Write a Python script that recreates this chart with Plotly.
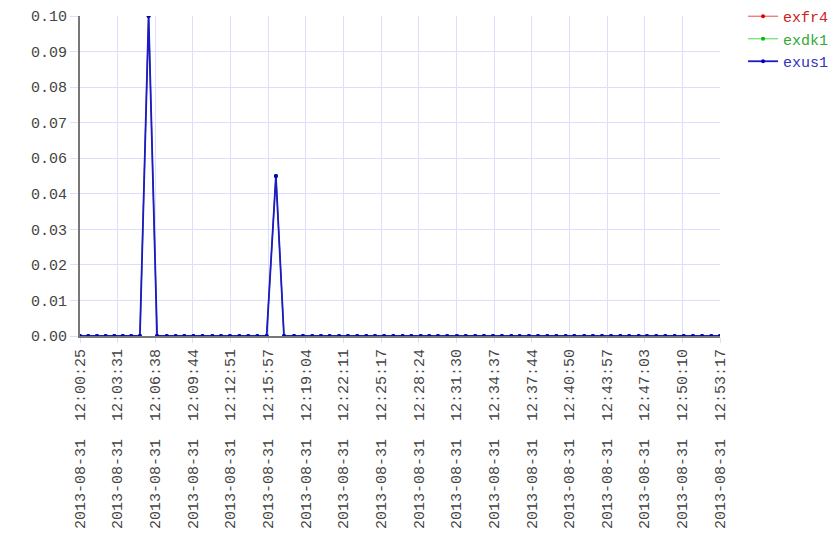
import plotly.graph_objects as go

times = [
    "2013-08-31 12:00:25", "2013-08-31 12:01:06", "2013-08-31 12:01:49", "2013-08-31 12:02:32",
    "2013-08-31 12:03:15", "2013-08-31 12:03:57", "2013-08-31 12:04:39", "2013-08-31 12:05:22",
    "2013-08-31 12:06:05", "2013-08-31 12:06:47", "2013-08-31 12:07:35", "2013-08-31 12:08:19",
    "2013-08-31 12:09:02", "2013-08-31 12:09:47", "2013-08-31 12:10:32", "2013-08-31 12:11:21",
    "2013-08-31 12:12:04", "2013-08-31 12:12:48", "2013-08-31 12:13:35", "2013-08-31 12:14:19",
    "2013-08-31 12:15:04", "2013-08-31 12:15:50", "2013-08-31 12:16:36", "2013-08-31 12:17:16",
    "2013-08-31 12:18:06", "2013-08-31 12:18:50", "2013-08-31 12:19:36", "2013-08-31 12:20:19",
    "2013-08-31 12:21:02", "2013-08-31 12:21:49", "2013-08-31 12:22:33", "2013-08-31 12:23:19",
    "2013-08-31 12:24:04", "2013-08-31 12:24:47", "2013-08-31 12:25:32", "2013-08-31 12:26:18",
    "2013-08-31 12:27:04", "2013-08-31 12:27:47", "2013-08-31 12:28:34", "2013-08-31 12:29:16",
    "2013-08-31 12:29:59", "2013-08-31 12:30:45", "2013-08-31 12:31:33", "2013-08-31 12:32:17",
    "2013-08-31 12:33:04", "2013-08-31 12:33:47", "2013-08-31 12:34:32", "2013-08-31 12:35:16",
    "2013-08-31 12:36:03", "2013-08-31 12:36:44", "2013-08-31 12:37:30", "2013-08-31 12:38:15",
    "2013-08-31 12:39:01", "2013-08-31 12:39:46", "2013-08-31 12:40:32", "2013-08-31 12:41:15",
    "2013-08-31 12:42:04", "2013-08-31 12:42:47", "2013-08-31 12:43:32", "2013-08-31 12:44:17",
    "2013-08-31 12:45:03", "2013-08-31 12:45:47", "2013-08-31 12:46:34", "2013-08-31 12:47:15",
    "2013-08-31 12:48:01", "2013-08-31 12:48:46", "2013-08-31 12:49:32", "2013-08-31 12:50:17",
    "2013-08-31 12:51:03", "2013-08-31 12:51:48", "2013-08-31 12:52:34", "2013-08-31 12:53:17",
]

exfr4 = [0.0] * 72
exfr4[8] = 0.10
exfr4[22] = 0.05
exdk1 = list(exfr4)
exus1 = list(exfr4)

x_ticks = [
    "2013-08-31 12:00:25", "2013-08-31 12:03:31", "2013-08-31 12:06:38", "2013-08-31 12:09:44",
    "2013-08-31 12:12:51", "2013-08-31 12:15:57", "2013-08-31 12:19:04", "2013-08-31 12:22:11",
    "2013-08-31 12:25:17", "2013-08-31 12:28:24", "2013-08-31 12:31:30", "2013-08-31 12:34:37",
    "2013-08-31 12:37:44", "2013-08-31 12:40:50", "2013-08-31 12:43:57", "2013-08-31 12:47:03",
    "2013-08-31 12:50:10", "2013-08-31 12:53:17",
]
y_ticks = [k / 90 for k in range(10)]
y_labels = ["%.2f" % v for v in y_ticks]

series = [
    ("exfr4", exfr4, "rgba(230,0,0,0.6)", "#dd0000", "#cc2222"),
    ("exdk1", exdk1, "rgba(0,200,0,0.6)", "#00bb00", "#33aa33"),
    ("exus1", exus1, "#1a1ac8", "#0000cc", "#3333bb"),
]

FONT = "Liberation Mono, Courier New, monospace"

fig = go.Figure()
for name, vals, lc, mc, tc in series:
    fig.add_trace(go.Scatter(
        x=times, y=vals, mode="lines+markers",
        name=f"<span style='color:{tc}'>{name}</span>",
        line=dict(color=lc, width=1.8 if name == "exus1" else 1.2),
        marker=dict(color=mc, size=4),
    ))

# the page body adds an 8px offset; the figure is sized to fit the window
fig.update_layout(
    width=832, height=552,
    margin=dict(l=72, r=120, t=8, b=224, autoexpand=False),
    paper_bgcolor="white", plot_bgcolor="white",
    font=dict(family=FONT, size=15, color="#444"),
    legend=dict(x=1.036, y=1.05, xanchor="left", yanchor="top",
                font=dict(family=FONT, size=15), tracegroupgap=0,
                bgcolor="rgba(0,0,0,0)"),
    xaxis=dict(
        type="date",
        range=[times[0], times[-1]],
        tickvals=x_ticks,
        ticktext=[t.replace(" ", "\u00a0 ") for t in x_ticks],
        tickangle=-90,
        automargin=False,
        layer="below traces",
        showgrid=True, gridcolor="#ddddff", gridwidth=1,
        showline=True, linecolor="#777", linewidth=2,
        ticks="outside", ticklen=5, tickcolor="#ddddff",
        zeroline=False,
    ),
    yaxis=dict(
        range=[0, 0.1],
        tickvals=y_ticks, ticktext=y_labels,
        automargin=False,
        layer="below traces",
        showgrid=True, gridcolor="#ddddff", gridwidth=1,
        showline=True, linecolor="#777", linewidth=2,
        ticks="outside", ticklen=8, tickcolor="#ddddff",
        zeroline=False,
    ),
)

fig.write_html("out.html")
